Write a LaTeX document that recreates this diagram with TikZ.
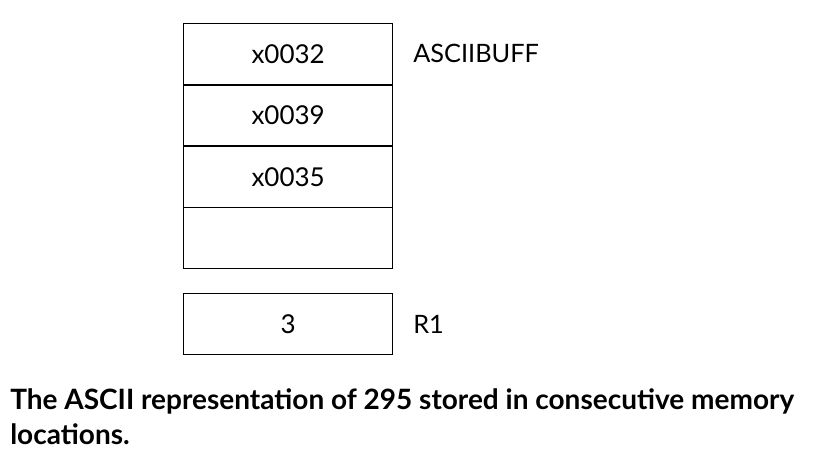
\documentclass[tikz,border=0pt]{standalone}
\usepackage{fontspec}
\setmainfont{Lato}
\begin{document}
\begin{tikzpicture}[x=0.75pt,y=-0.75pt,
  cell/.style={draw, line width=1pt, minimum width=156.75pt, minimum height=45.75pt, inner sep=0pt, font=\fontsize{19.5}{23}\selectfont, anchor=north west},
  lbl/.style={anchor=west, inner sep=0pt, font=\fontsize{19}{23}\selectfont},
  captiontext/.style={anchor=west, inner sep=0pt, font=\bfseries\fontsize{21}{25}\selectfont}]
\useasboundingbox (0,0) rectangle (830,470);
\node[cell] (c1) at (183,23) {x0032};
\node[cell] (c2) at (183,84.3) {x0039};
\node[cell] (c3) at (183,145.6) {x0035};
\node[cell] (c4) at (183,206.9) {};
\node[cell] (r1) at (183,293) {3};
\node[lbl] (l1) at (413,53) {ASCIIBUFF};
\node[lbl] (l2) at (413,324) {R1};
\node[captiontext] (t1) at (10,401) {The ASCII representation of 295 stored in consecutive memory};
\node[captiontext] (t2) at (10,434) {locations.};
\end{tikzpicture}
\end{document}
